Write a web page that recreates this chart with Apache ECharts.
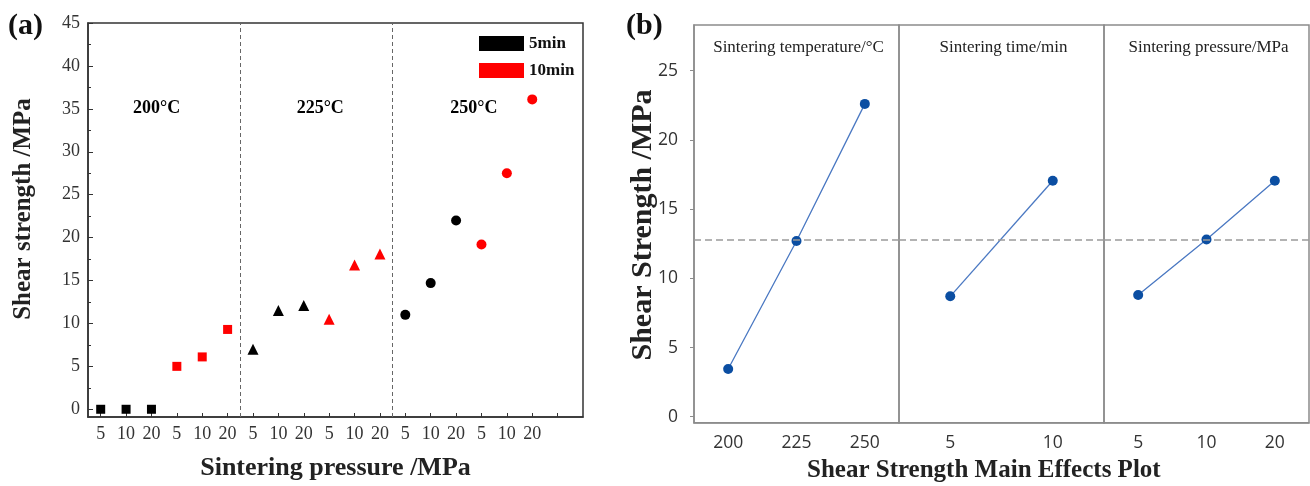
<!DOCTYPE html>
<html>
<head>
<meta charset="utf-8">
<script src="https://cdn.jsdelivr.net/npm/echarts@6/dist/echarts.min.js"></script>
<style>html,body{margin:0;padding:0;background:#fff;}#c{width:1310px;height:486px;}</style>
</head>
<body>
<div id="c"></div>
<script>
// ---- data: panel (a) ----
const temps = ['200°C', '225°C', '250°C'];
const pressures = ['5', '10', '20'];
const times = ['5min', '10min'];
const strength5min = [[0, 0, 0], [7.0, 11.5, 12.1], [11.0, 14.7, 22.0]];
const strength10min = [[5.0, 6.1, 9.3], [10.5, 16.8, 18.1], [19.2, 27.5, 36.1]];
const yTicksA = [0, 5, 10, 15, 20, 25, 30, 35, 40, 45];

// ---- data: panel (b) ----
const factorNames = ['Sintering temperature/°C', 'Sintering time/min', 'Sintering pressure/MPa'];
const levelsTemp = ['200', '225', '250'];
const meansTemp = [3.45, 12.7, 22.6];
const levelsTime = ['5', '10'];
const meansTime = [8.7, 17.05];
const levelsPressure = ['5', '10', '20'];
const meansPressure = [8.8, 12.8, 17.05];
const grandMean = 12.8;
const yTicksB = [0, 5, 10, 15, 20, 25];

// ---- build ----
const serif = 'Liberation Serif';
const sans = 'Open Sans';
const shapes = ['rect', 'triangle', 'circle'];
const sizes = [9, 11, 10];

function buildPoints(values, tIdx) {
  const pts = [];
  values.forEach((row, g) => {
    row.forEach((v, p) => {
      pts.push({ value: [g * 6 + tIdx * 3 + p + 1, v], symbol: shapes[g], symbolSize: sizes[g] });
    });
  });
  return pts;
}
const xLabelVals = [];
const xLabelText = {};
for (let g = 0; g < 3; g++) for (let t = 0; t < 2; t++) for (let p = 0; p < 3; p++) {
  const x = g * 6 + t * 3 + p + 1;
  xLabelVals.push(x);
  xLabelText[x] = pressures[p];
}
const xTickVals = xLabelVals.concat([19]);
const annotX = [3.2, 9.65, 15.7];

const levels = [levelsTemp, levelsTime, levelsPressure];
const means = [meansTemp, meansTime, meansPressure];
const panelLeft = [694, 899, 1104];
const panelW = 205;

const grids = [{ left: 88, top: 23, width: 495, height: 397, show: true, borderColor: '#333', borderWidth: 1.5, backgroundColor: 'transparent' }];
panelLeft.forEach(l => grids.push({ left: l, top: 25, width: panelW, height: 397.7, show: true, borderColor: '#8c8c8c', borderWidth: 1.5 }));

const xAxes = [{
  gridIndex: 0, type: 'value', min: 0.5, max: 20,
  axisLine: { onZero: false, lineStyle: { color: '#333', width: 1.5 } },
  axisTick: { inside: true, length: 4, customValues: xTickVals, lineStyle: { color: '#333' } },
  axisLabel: { customValues: xLabelVals, formatter: v => xLabelText[Math.round(v)] || '', fontFamily: serif, fontSize: 18, color: '#333', margin: 8 },
  splitLine: { show: false },
  name: 'Sintering pressure /MPa', nameLocation: 'middle', nameGap: 38,
  nameTextStyle: { fontFamily: serif, fontWeight: 'bold', fontSize: 26, color: '#222' }
}];
const yAxes = [{
  gridIndex: 0, type: 'value', min: -0.9, max: 45, position: 'left',
  axisLine: { onZero: false, lineStyle: { color: '#333', width: 1.5 } },
  axisTick: { inside: true, length: 5, customValues: yTicksA, lineStyle: { color: '#333' } },
  axisLabel: { customValues: yTicksA, fontFamily: serif, fontSize: 18, color: '#333', margin: 8 },
  splitLine: { show: false }
}, {
  gridIndex: 0, type: 'value', min: -0.9, max: 45, position: 'left',
  axisLine: { show: false, onZero: false },
  axisTick: { inside: true, length: 3, customValues: yTicksA.slice(0, 9).map(v => v + 2.5), lineStyle: { color: '#333' } },
  axisLabel: { show: false }, splitLine: { show: false }
}];

levels.forEach((lv, i) => {
  xAxes.push({
    gridIndex: i + 1, type: 'category', data: lv, boundaryGap: true,
    axisLine: { onZero: false, lineStyle: { color: '#8c8c8c', width: 1.5 } },
    axisTick: { alignWithLabel: true, length: 4, lineStyle: { color: '#8c8c8c' } },
    axisLabel: { fontFamily: sans, fontSize: 17.5, color: '#333', margin: 11 }
  });
  yAxes.push({
    gridIndex: i + 1, type: 'value', min: -0.43, max: 28.3,
    axisLine: { show: i === 0, onZero: false, lineStyle: { color: '#8c8c8c', width: 1.5 } },
    axisTick: { show: i === 0, length: 4, customValues: yTicksB, lineStyle: { color: '#8c8c8c' } },
    axisLabel: { show: i === 0, customValues: yTicksB, fontFamily: sans, fontSize: 17.5, color: '#333', margin: 16 },
    splitLine: { show: false }
  });
});

const series = [
  {
    name: times[0], type: 'scatter', xAxisIndex: 0, yAxisIndex: 0,
    data: buildPoints(strength5min, 0), itemStyle: { color: '#000', opacity: 1 },
    markLine: {
      silent: true, symbol: 'none', label: { show: false },
      lineStyle: { color: '#666', type: [4, 3], width: 1 },
      data: [{ xAxis: 6.5 }, { xAxis: 12.5 }]
    }
  },
  {
    name: times[1], type: 'scatter', xAxisIndex: 0, yAxisIndex: 0,
    data: buildPoints(strength10min, 1), itemStyle: { color: '#ff0000', opacity: 1 }
  },
  {
    name: 'temps', type: 'scatter', xAxisIndex: 0, yAxisIndex: 0, symbolSize: 0, silent: true,
    itemStyle: { opacity: 1 },
    data: temps.map((t, g) => ({ name: t, value: [annotX[g], 35.0] })),
    label: { show: true, position: 'inside', formatter: p => p.name, fontFamily: serif, fontWeight: 'bold', fontSize: 18, color: '#000', opacity: 1 }
  }
];
means.forEach((m, i) => {
  series.push({
    type: 'line', xAxisIndex: i + 1, yAxisIndex: i + 2, data: m,
    symbol: 'circle', symbolSize: 10,
    itemStyle: { color: '#0b4ea2' }, lineStyle: { color: '#4a78c2', width: 1.3 },
    markLine: {
      silent: true, symbol: 'none', label: { show: false },
      lineStyle: { color: '#9a9a9a', type: [7, 4], width: 1.5 },
      data: [{ yAxis: grandMean }]
    }
  });
});

const titles = factorNames.map((n, i) => ({
  text: n, left: panelLeft[i] + panelW / 2 - 3, top: 34, textAlign: 'center',
  textStyle: { fontFamily: serif, fontWeight: 'normal', fontSize: 17, color: '#222' }
}));

const option = {
  animation: false,
  backgroundColor: '#fff',
  title: titles,
  legend: {
    data: times.map(t => ({ name: t, icon: 'rect' })),
    orient: 'vertical', left: 474, top: 30, itemWidth: 45, itemHeight: 15, itemGap: 10,
    textStyle: { fontFamily: serif, fontWeight: 'bold', fontSize: 17, color: '#111' }
  },
  grid: grids,
  xAxis: xAxes,
  yAxis: yAxes,
  series: series,
  graphic: [
    { type: 'text', left: 8, top: 11, style: { text: '(a)', font: 'bold 30px "Liberation Serif"', fill: '#111' } },
    { type: 'text', left: 626, top: 11, style: { text: '(b)', font: 'bold 30px "Liberation Serif"', fill: '#111' } },
    { type: 'text', x: 24, y: 209, rotation: Math.PI / 2,
      style: { text: 'Shear strength /MPa', font: 'bold 25px "Liberation Serif"', fill: '#222', align: 'center', verticalAlign: 'middle' } },
    { type: 'text', x: 643, y: 225, rotation: Math.PI / 2,
      style: { text: 'Shear Strength /MPa', font: 'bold 30px "Liberation Serif"', fill: '#222', align: 'center', verticalAlign: 'middle' } },
    { type: 'text', left: 807, top: 458, style: { text: 'Shear Strength Main Effects Plot', font: 'bold 25px "Liberation Serif"', fill: '#222' } }
  ]
};
const chart = echarts.init(document.getElementById('c'));
chart.setOption(option);
</script>
</body>
</html>
